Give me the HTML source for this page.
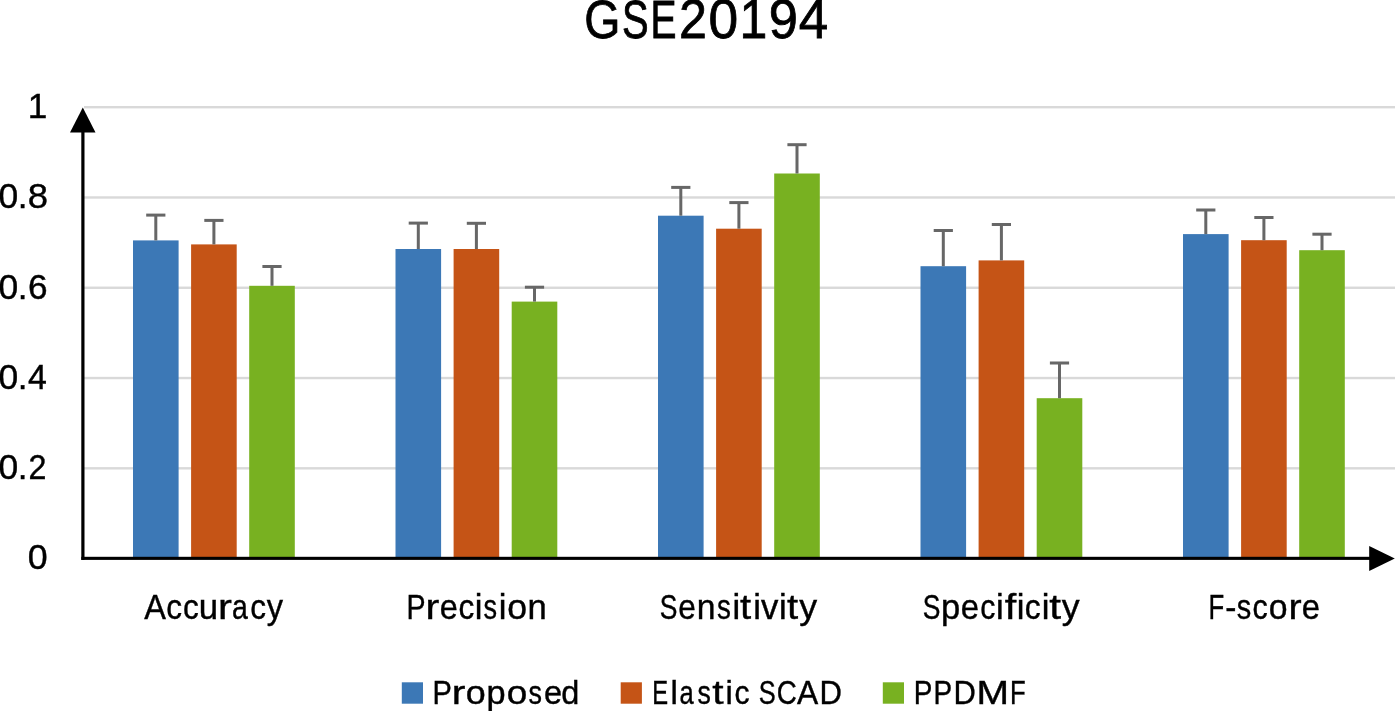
<!DOCTYPE html>
<html><head><meta charset="utf-8"><title>GSE20194</title>
<style>
html,body{margin:0;padding:0;background:#fff;}
body{width:1395px;height:711px;overflow:hidden;}
svg{display:block;will-change:transform;}
text{font-family:"Liberation Sans",sans-serif;}
</style></head><body>
<svg width="1395" height="711" viewBox="0 0 1395 711">
<rect width="1395" height="711" fill="#fff"/>
<rect x="84" y="106.00" width="1311" height="2.4" fill="#d9d9d9"/>
<rect x="84" y="196.28" width="1311" height="2.4" fill="#d9d9d9"/>
<rect x="84" y="286.56" width="1311" height="2.4" fill="#d9d9d9"/>
<rect x="84" y="376.84" width="1311" height="2.4" fill="#d9d9d9"/>
<rect x="84" y="467.12" width="1311" height="2.4" fill="#d9d9d9"/>
<rect x="133.00" y="240.40" width="45.6" height="317.10" fill="#3c78b6"/>
<rect x="154.30" y="215.10" width="3" height="25.30" fill="#676767"/>
<rect x="146.20" y="213.60" width="19.2" height="3" fill="#676767"/>
<rect x="191.10" y="244.40" width="45.6" height="313.10" fill="#c55416"/>
<rect x="212.40" y="220.40" width="3" height="24.00" fill="#676767"/>
<rect x="204.30" y="218.90" width="19.2" height="3" fill="#676767"/>
<rect x="249.20" y="285.80" width="45.6" height="271.70" fill="#78b121"/>
<rect x="270.50" y="266.50" width="3" height="19.30" fill="#676767"/>
<rect x="262.40" y="265.00" width="19.2" height="3" fill="#676767"/>
<rect x="395.50" y="249.00" width="45.6" height="308.50" fill="#3c78b6"/>
<rect x="416.80" y="223.10" width="3" height="25.90" fill="#676767"/>
<rect x="408.70" y="221.60" width="19.2" height="3" fill="#676767"/>
<rect x="453.60" y="249.00" width="45.6" height="308.50" fill="#c55416"/>
<rect x="474.90" y="223.30" width="3" height="25.70" fill="#676767"/>
<rect x="466.80" y="221.80" width="19.2" height="3" fill="#676767"/>
<rect x="511.70" y="301.60" width="45.6" height="255.90" fill="#78b121"/>
<rect x="533.00" y="287.20" width="3" height="14.40" fill="#676767"/>
<rect x="524.90" y="285.70" width="19.2" height="3" fill="#676767"/>
<rect x="658.00" y="215.70" width="45.6" height="341.80" fill="#3c78b6"/>
<rect x="679.30" y="187.40" width="3" height="28.30" fill="#676767"/>
<rect x="671.20" y="185.90" width="19.2" height="3" fill="#676767"/>
<rect x="716.10" y="228.70" width="45.6" height="328.80" fill="#c55416"/>
<rect x="737.40" y="202.60" width="3" height="26.10" fill="#676767"/>
<rect x="729.30" y="201.10" width="19.2" height="3" fill="#676767"/>
<rect x="774.20" y="173.50" width="45.6" height="384.00" fill="#78b121"/>
<rect x="795.50" y="144.70" width="3" height="28.80" fill="#676767"/>
<rect x="787.40" y="143.20" width="19.2" height="3" fill="#676767"/>
<rect x="920.50" y="266.20" width="45.6" height="291.30" fill="#3c78b6"/>
<rect x="941.80" y="230.50" width="3" height="35.70" fill="#676767"/>
<rect x="933.70" y="229.00" width="19.2" height="3" fill="#676767"/>
<rect x="978.60" y="260.40" width="45.6" height="297.10" fill="#c55416"/>
<rect x="999.90" y="224.50" width="3" height="35.90" fill="#676767"/>
<rect x="991.80" y="223.00" width="19.2" height="3" fill="#676767"/>
<rect x="1036.70" y="398.20" width="45.6" height="159.30" fill="#78b121"/>
<rect x="1058.00" y="363.00" width="3" height="35.20" fill="#676767"/>
<rect x="1049.90" y="361.50" width="19.2" height="3" fill="#676767"/>
<rect x="1183.00" y="234.10" width="45.6" height="323.40" fill="#3c78b6"/>
<rect x="1204.30" y="210.00" width="3" height="24.10" fill="#676767"/>
<rect x="1196.20" y="208.50" width="19.2" height="3" fill="#676767"/>
<rect x="1241.10" y="240.20" width="45.6" height="317.30" fill="#c55416"/>
<rect x="1262.40" y="217.50" width="3" height="22.70" fill="#676767"/>
<rect x="1254.30" y="216.00" width="19.2" height="3" fill="#676767"/>
<rect x="1299.20" y="250.20" width="45.6" height="307.30" fill="#78b121"/>
<rect x="1320.50" y="234.20" width="3" height="16.00" fill="#676767"/>
<rect x="1312.40" y="232.70" width="19.2" height="3" fill="#676767"/>
<rect x="81.3" y="128" width="3.2" height="431.9" fill="#000"/>
<rect x="81.3" y="556.8" width="1290" height="3.1" fill="#000"/>
<polygon points="82.8,107.4 70,132.4 95.5,132.4" fill="#000"/>
<polygon points="1394.8,558.4 1369.2,546 1369.2,571" fill="#000"/>
<rect x="401.8" y="682.3" width="21.2" height="21.4" fill="#3c78b6"/>
<rect x="620.7" y="682.3" width="21.2" height="21.4" fill="#c55416"/>
<rect x="882.8" y="682.3" width="21.2" height="21.4" fill="#78b121"/>
<g fill="#000" stroke="#000">
<text id="t0" x="584.22" y="37.9" font-size="54.2" stroke-width="0.8" textLength="36.17" lengthAdjust="spacingAndGlyphs">G</text>
<text id="t1" x="622.08" y="37.9" font-size="54.2" stroke-width="0.8" textLength="26.65" lengthAdjust="spacingAndGlyphs">S</text>
<text id="t2" x="650.62" y="37.9" font-size="54.2" stroke-width="0.8" textLength="26.03" lengthAdjust="spacingAndGlyphs">E</text>
<text id="t3" x="679.08" y="37.9" font-size="55.6" stroke-width="0.8" textLength="27.89" lengthAdjust="spacingAndGlyphs">2</text>
<text id="t4" x="708.47" y="37.9" font-size="55.6" stroke-width="0.8" textLength="29.64" lengthAdjust="spacingAndGlyphs">0</text>
<text id="t5" x="739.38" y="37.9" font-size="55.6" stroke-width="0.8" textLength="27.77" lengthAdjust="spacingAndGlyphs">1</text>
<text id="t6" x="768.83" y="37.9" font-size="55.6" stroke-width="0.8" textLength="29.16" lengthAdjust="spacingAndGlyphs">9</text>
<text id="t7" x="798.79" y="37.9" font-size="55.6" stroke-width="0.8" textLength="29.43" lengthAdjust="spacingAndGlyphs">4</text>
<text id="y1" x="27.66" y="118.0" font-size="35" stroke-width="0.4" textLength="19.59" lengthAdjust="spacingAndGlyphs">1</text>
<text id="y08a" x="-1.58" y="208.4" font-size="35" stroke-width="0.4" textLength="19.74" lengthAdjust="spacingAndGlyphs">0</text>
<text id="y08b" x="17.86" y="208.4" font-size="35" stroke-width="0.4" textLength="9.73" lengthAdjust="spacingAndGlyphs">.</text>
<text id="y08c" x="27.65" y="208.4" font-size="35" stroke-width="0.4" textLength="20.29" lengthAdjust="spacingAndGlyphs">8</text>
<text id="y06a" x="-1.58" y="298.6" font-size="35" stroke-width="0.4" textLength="19.74" lengthAdjust="spacingAndGlyphs">0</text>
<text id="y06b" x="17.86" y="298.6" font-size="35" stroke-width="0.4" textLength="9.73" lengthAdjust="spacingAndGlyphs">.</text>
<text id="y06c" x="28.03" y="298.6" font-size="35" stroke-width="0.4" textLength="19.56" lengthAdjust="spacingAndGlyphs">6</text>
<text id="y04a" x="-1.58" y="388.9" font-size="35" stroke-width="0.4" textLength="19.74" lengthAdjust="spacingAndGlyphs">0</text>
<text id="y04b" x="17.86" y="388.9" font-size="35" stroke-width="0.4" textLength="9.73" lengthAdjust="spacingAndGlyphs">.</text>
<text id="y04c" x="27.95" y="388.9" font-size="35" stroke-width="0.4" textLength="18.82" lengthAdjust="spacingAndGlyphs">4</text>
<text id="y02a" x="-1.58" y="479.1" font-size="35" stroke-width="0.4" textLength="19.74" lengthAdjust="spacingAndGlyphs">0</text>
<text id="y02b" x="17.86" y="479.1" font-size="35" stroke-width="0.4" textLength="9.73" lengthAdjust="spacingAndGlyphs">.</text>
<text id="y02c" x="28.49" y="479.1" font-size="35" stroke-width="0.4" textLength="17.95" lengthAdjust="spacingAndGlyphs">2</text>
<text id="y0" x="27.81" y="569.3" font-size="35" stroke-width="0.4" textLength="19.86" lengthAdjust="spacingAndGlyphs">0</text>
<text id="c0_0" x="144.25" y="619.2" font-size="34.6" stroke-width="0.4" textLength="21.65" lengthAdjust="spacingAndGlyphs">A</text>
<text id="c0_1" x="166.28" y="619.2" font-size="34.6" stroke-width="0.4" textLength="15.80" lengthAdjust="spacingAndGlyphs">c</text>
<text id="c0_2" x="182.98" y="619.2" font-size="34.6" stroke-width="0.4" textLength="15.80" lengthAdjust="spacingAndGlyphs">c</text>
<text id="c0_3" x="198.72" y="619.2" font-size="34.6" stroke-width="0.4" textLength="19.32" lengthAdjust="spacingAndGlyphs">u</text>
<text id="c0_4" x="218.07" y="619.2" font-size="34.6" stroke-width="0.4" textLength="13.88" lengthAdjust="spacingAndGlyphs">r</text>
<text id="c0_5" x="231.99" y="619.2" font-size="34.6" stroke-width="0.4" textLength="15.84" lengthAdjust="spacingAndGlyphs">a</text>
<text id="c0_6" x="250.18" y="619.2" font-size="34.6" stroke-width="0.4" textLength="15.80" lengthAdjust="spacingAndGlyphs">c</text>
<text id="c0_7" x="266.84" y="619.2" font-size="34.6" stroke-width="0.4" textLength="16.27" lengthAdjust="spacingAndGlyphs">y</text>
<text id="c1_0" x="406.47" y="619.2" font-size="34.6" stroke-width="0.4" textLength="19.07" lengthAdjust="spacingAndGlyphs">P</text>
<text id="c1_1" x="425.49" y="619.2" font-size="34.6" stroke-width="0.4" textLength="13.75" lengthAdjust="spacingAndGlyphs">r</text>
<text id="c1_2" x="439.75" y="619.2" font-size="34.6" stroke-width="0.4" textLength="18.01" lengthAdjust="spacingAndGlyphs">e</text>
<text id="c1_3" x="458.58" y="619.2" font-size="34.6" stroke-width="0.4" textLength="15.80" lengthAdjust="spacingAndGlyphs">c</text>
<text id="c1_4" x="474.85" y="619.2" font-size="34.6" stroke-width="0.4" textLength="7.69" lengthAdjust="spacingAndGlyphs">i</text>
<text id="c1_5" x="483.59" y="619.2" font-size="34.6" stroke-width="0.4" textLength="13.54" lengthAdjust="spacingAndGlyphs">s</text>
<text id="c1_6" x="498.75" y="619.2" font-size="34.6" stroke-width="0.4" textLength="7.69" lengthAdjust="spacingAndGlyphs">i</text>
<text id="c1_7" x="507.35" y="619.2" font-size="34.6" stroke-width="0.4" textLength="19.82" lengthAdjust="spacingAndGlyphs">o</text>
<text id="c1_8" x="527.50" y="619.2" font-size="34.6" stroke-width="0.4" textLength="19.23" lengthAdjust="spacingAndGlyphs">n</text>
<text id="c2_0" x="659.67" y="619.2" font-size="34.6" stroke-width="0.4" textLength="17.67" lengthAdjust="spacingAndGlyphs">S</text>
<text id="c2_1" x="678.28" y="619.2" font-size="34.6" stroke-width="0.4" textLength="17.55" lengthAdjust="spacingAndGlyphs">e</text>
<text id="c2_2" x="696.86" y="619.2" font-size="34.6" stroke-width="0.4" textLength="18.71" lengthAdjust="spacingAndGlyphs">n</text>
<text id="c2_3" x="716.96" y="619.2" font-size="34.6" stroke-width="0.4" textLength="13.88" lengthAdjust="spacingAndGlyphs">s</text>
<text id="c2_4" x="732.45" y="619.2" font-size="34.6" stroke-width="0.4" textLength="7.69" lengthAdjust="spacingAndGlyphs">i</text>
<text id="c2_5" x="740.07" y="619.2" font-size="34.6" stroke-width="0.4" textLength="11.13" lengthAdjust="spacingAndGlyphs">t</text>
<text id="c2_6" x="753.35" y="619.2" font-size="34.6" stroke-width="0.4" textLength="7.69" lengthAdjust="spacingAndGlyphs">i</text>
<text id="c2_7" x="760.92" y="619.2" font-size="34.6" stroke-width="0.4" textLength="17.36" lengthAdjust="spacingAndGlyphs">v</text>
<text id="c2_8" x="778.90" y="619.2" font-size="34.6" stroke-width="0.4" textLength="7.69" lengthAdjust="spacingAndGlyphs">i</text>
<text id="c2_9" x="786.97" y="619.2" font-size="34.6" stroke-width="0.4" textLength="11.13" lengthAdjust="spacingAndGlyphs">t</text>
<text id="c2_10" x="799.34" y="619.2" font-size="34.6" stroke-width="0.4" textLength="17.89" lengthAdjust="spacingAndGlyphs">y</text>
<text id="c3_0" x="922.67" y="619.2" font-size="34.6" stroke-width="0.4" textLength="17.67" lengthAdjust="spacingAndGlyphs">S</text>
<text id="c3_1" x="940.93" y="619.2" font-size="34.6" stroke-width="0.4" textLength="19.20" lengthAdjust="spacingAndGlyphs">p</text>
<text id="c3_2" x="960.73" y="619.2" font-size="34.6" stroke-width="0.4" textLength="18.24" lengthAdjust="spacingAndGlyphs">e</text>
<text id="c3_3" x="980.33" y="619.2" font-size="34.6" stroke-width="0.4" textLength="15.13" lengthAdjust="spacingAndGlyphs">c</text>
<text id="c3_4" x="996.05" y="619.2" font-size="34.6" stroke-width="0.4" textLength="7.69" lengthAdjust="spacingAndGlyphs">i</text>
<text id="c3_5" x="1004.89" y="619.2" font-size="34.6" stroke-width="0.4" textLength="11.48" lengthAdjust="spacingAndGlyphs">f</text>
<text id="c3_6" x="1016.75" y="619.2" font-size="34.6" stroke-width="0.4" textLength="7.69" lengthAdjust="spacingAndGlyphs">i</text>
<text id="c3_7" x="1024.67" y="619.2" font-size="34.6" stroke-width="0.4" textLength="15.92" lengthAdjust="spacingAndGlyphs">c</text>
<text id="c3_8" x="1041.65" y="619.2" font-size="34.6" stroke-width="0.4" textLength="7.69" lengthAdjust="spacingAndGlyphs">i</text>
<text id="c3_9" x="1049.36" y="619.2" font-size="34.6" stroke-width="0.4" textLength="11.74" lengthAdjust="spacingAndGlyphs">t</text>
<text id="c3_10" x="1061.74" y="619.2" font-size="34.6" stroke-width="0.4" textLength="17.89" lengthAdjust="spacingAndGlyphs">y</text>
<text id="c4_0" x="1208.48" y="619.2" font-size="34.6" stroke-width="0.4" textLength="15.72" lengthAdjust="spacingAndGlyphs">F</text>
<text id="c4_1" x="1225.13" y="619.2" font-size="34.6" stroke-width="0.4" textLength="11.12" lengthAdjust="spacingAndGlyphs">-</text>
<text id="c4_2" x="1236.83" y="619.2" font-size="34.6" stroke-width="0.4" textLength="14.46" lengthAdjust="spacingAndGlyphs">s</text>
<text id="c4_3" x="1252.52" y="619.2" font-size="34.6" stroke-width="0.4" textLength="15.24" lengthAdjust="spacingAndGlyphs">c</text>
<text id="c4_4" x="1268.72" y="619.2" font-size="34.6" stroke-width="0.4" textLength="18.79" lengthAdjust="spacingAndGlyphs">o</text>
<text id="c4_5" x="1288.51" y="619.2" font-size="34.6" stroke-width="0.4" textLength="13.11" lengthAdjust="spacingAndGlyphs">r</text>
<text id="c4_6" x="1301.83" y="619.2" font-size="34.6" stroke-width="0.4" textLength="18.24" lengthAdjust="spacingAndGlyphs">e</text>
<text id="l0_0" x="432.43" y="703.8" font-size="33" stroke-width="0.4" textLength="19.34" lengthAdjust="spacingAndGlyphs">P</text>
<text id="l0_1" x="451.65" y="703.8" font-size="33" stroke-width="0.4" textLength="13.64" lengthAdjust="spacingAndGlyphs">r</text>
<text id="l0_2" x="465.81" y="703.8" font-size="33" stroke-width="0.4" textLength="19.95" lengthAdjust="spacingAndGlyphs">o</text>
<text id="l0_3" x="486.49" y="703.8" font-size="33" stroke-width="0.4" textLength="19.09" lengthAdjust="spacingAndGlyphs">p</text>
<text id="l0_4" x="506.67" y="703.8" font-size="33" stroke-width="0.4" textLength="20.53" lengthAdjust="spacingAndGlyphs">o</text>
<text id="l0_5" x="528.60" y="703.8" font-size="33" stroke-width="0.4" textLength="13.44" lengthAdjust="spacingAndGlyphs">s</text>
<text id="l0_6" x="543.92" y="703.8" font-size="33" stroke-width="0.4" textLength="18.07" lengthAdjust="spacingAndGlyphs">e</text>
<text id="l0_7" x="561.13" y="703.8" font-size="33" stroke-width="0.4" textLength="18.06" lengthAdjust="spacingAndGlyphs">d</text>
<text id="l1_0" x="652.24" y="703.8" font-size="33" stroke-width="0.4" textLength="15.85" lengthAdjust="spacingAndGlyphs">E</text>
<text id="l1_1" x="670.45" y="703.8" font-size="33" stroke-width="0.4" textLength="7.34" lengthAdjust="spacingAndGlyphs">l</text>
<text id="l1_2" x="679.47" y="703.8" font-size="33" stroke-width="0.4" textLength="14.19" lengthAdjust="spacingAndGlyphs">a</text>
<text id="l1_3" x="697.51" y="703.8" font-size="33" stroke-width="0.4" textLength="13.32" lengthAdjust="spacingAndGlyphs">s</text>
<text id="l1_4" x="712.17" y="703.8" font-size="33" stroke-width="0.4" textLength="11.31" lengthAdjust="spacingAndGlyphs">t</text>
<text id="l1_5" x="725.42" y="703.8" font-size="33" stroke-width="0.4" textLength="7.34" lengthAdjust="spacingAndGlyphs">i</text>
<text id="l1_6" x="734.61" y="703.8" font-size="33" stroke-width="0.4" textLength="15.02" lengthAdjust="spacingAndGlyphs">c</text>
<text id="l1_7" x="758.72" y="703.8" font-size="33" stroke-width="0.4" textLength="16.95" lengthAdjust="spacingAndGlyphs">S</text>
<text id="l1_8" x="776.86" y="703.8" font-size="33" stroke-width="0.4" textLength="20.03" lengthAdjust="spacingAndGlyphs">C</text>
<text id="l1_9" x="796.95" y="703.8" font-size="33" stroke-width="0.4" textLength="21.21" lengthAdjust="spacingAndGlyphs">A</text>
<text id="l1_10" x="819.48" y="703.8" font-size="33" stroke-width="0.4" textLength="22.45" lengthAdjust="spacingAndGlyphs">D</text>
<text id="l2_0" x="913.81" y="703.8" font-size="33" stroke-width="0.4" textLength="18.61" lengthAdjust="spacingAndGlyphs">P</text>
<text id="l2_1" x="933.61" y="703.8" font-size="33" stroke-width="0.4" textLength="18.61" lengthAdjust="spacingAndGlyphs">P</text>
<text id="l2_2" x="953.39" y="703.8" font-size="33" stroke-width="0.4" textLength="22.33" lengthAdjust="spacingAndGlyphs">D</text>
<text id="l2_3" x="976.41" y="703.8" font-size="33" stroke-width="0.4" textLength="32.52" lengthAdjust="spacingAndGlyphs">M</text>
<text id="l2_4" x="1010.07" y="703.8" font-size="33" stroke-width="0.4" textLength="15.66" lengthAdjust="spacingAndGlyphs">F</text>
</g>
</svg>
</body></html>
